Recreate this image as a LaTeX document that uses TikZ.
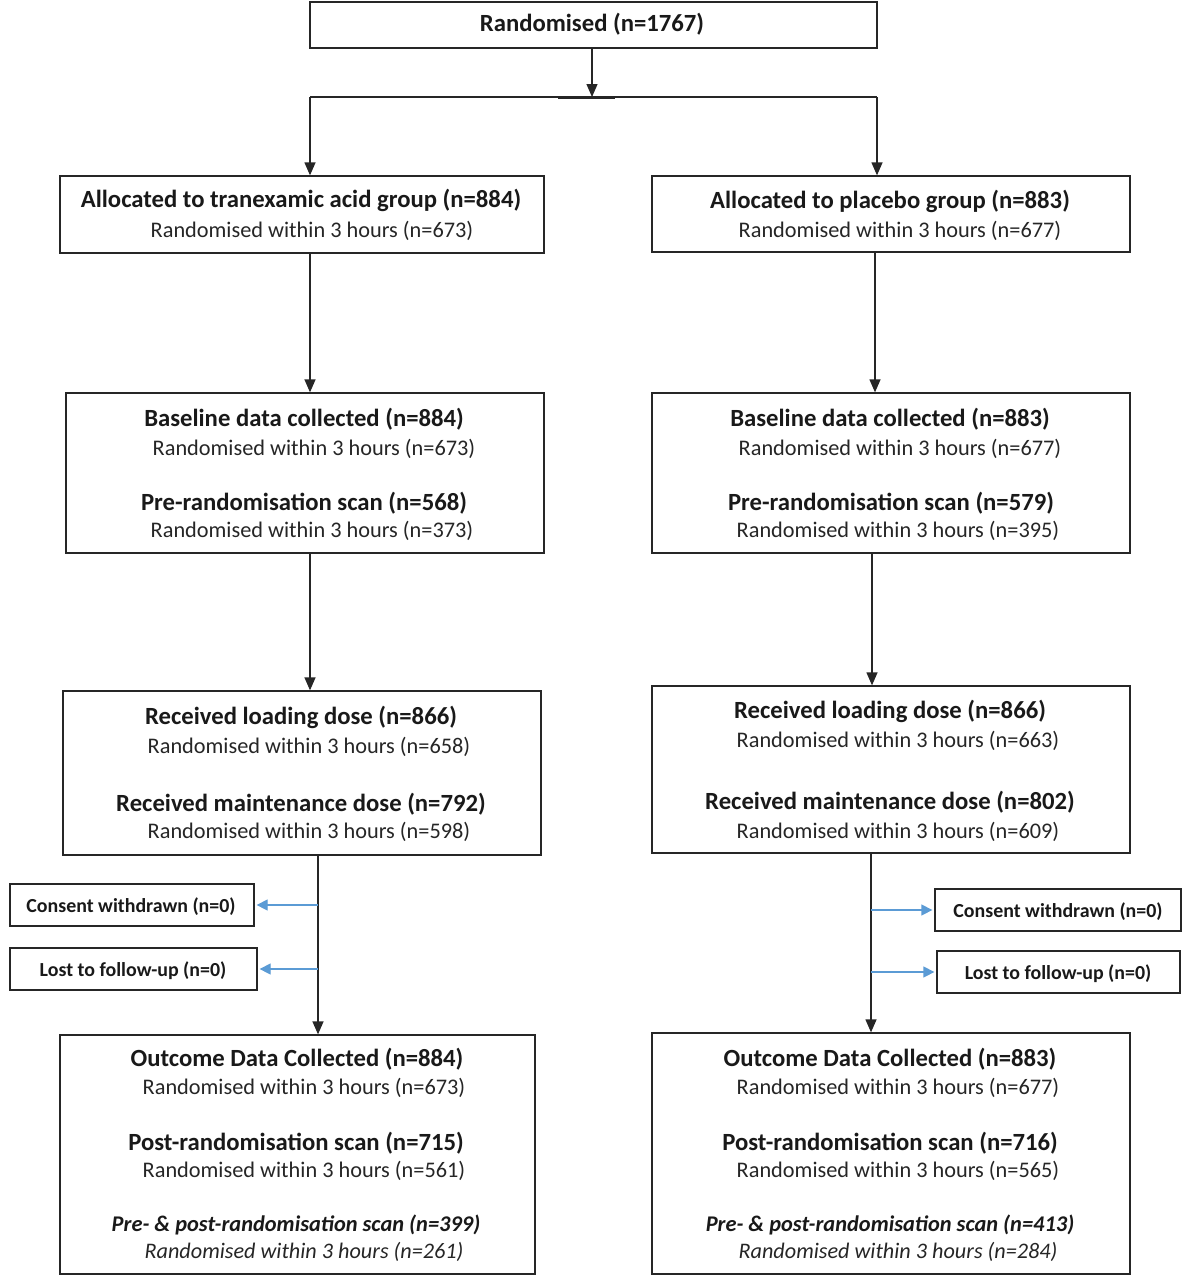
\documentclass[tikz,border=0pt]{standalone}
\usepackage{fontspec}
\setmainfont{Carlito}
\usetikzlibrary{arrows.meta}
\definecolor{ablue}{HTML}{5B9BD5}
\tikzset{
  box/.style={draw=black!85, line width=1.3pt, inner sep=0pt},
  txt/.style={inner sep=0pt, yshift=-1.5pt},
  hb/.style={txt, font=\fontsize{24.7}{28}\selectfont\bfseries, text=black!90},
  nt/.style={txt, font=\fontsize{22.3}{26}\selectfont, text=black!85},
  it/.style={txt, font=\fontsize{22.2}{26}\selectfont\itshape, text=black!85},
  itb/.style={txt, font=\fontsize{22.4}{26}\selectfont\bfseries\itshape, text=black!90},
  sb/.style={txt, font=\fontsize{19.9}{23}\selectfont\bfseries, text=black!90},
  arr/.style={line width=1.3pt, draw=black!85, -{Triangle[length=13pt,width=11pt]}},
  barr/.style={line width=1.3pt, draw=ablue, -{Triangle[length=11pt,width=11pt]}, shorten >=2pt},
  ln/.style={line width=1.3pt, draw=black!85},
}
\begin{document}
\begin{tikzpicture}[x=1pt,y=-1pt]
\useasboundingbox (0,0) rectangle (1193,1280);
\fill[white] (0,0) rectangle (1193,1280);
% boxes
\node[box, minimum width=567pt, minimum height=46pt] (top) at (593.5,25) {};
\node[box, minimum width=484pt, minimum height=77pt] (L1) at (302,214.5) {};
\node[box, minimum width=478pt, minimum height=76pt] (R1) at (891,214) {};
\node[box, minimum width=478pt, minimum height=160pt] (L2) at (305,473) {};
\node[box, minimum width=478pt, minimum height=160pt] (R2) at (891,473) {};
\node[box, minimum width=478pt, minimum height=164pt] (L3) at (302,773) {};
\node[box, minimum width=478pt, minimum height=167pt] (R3) at (891,769.5) {};
\node[box, minimum width=475pt, minimum height=239pt] (L4) at (297.5,1154.5) {};
\node[box, minimum width=478pt, minimum height=241pt] (R4) at (891,1153.5) {};
\node[box, minimum width=244pt, minimum height=42pt] (LC) at (132,905) {};
\node[box, minimum width=247pt, minimum height=42pt] (LL) at (133.5,969) {};
\node[box, minimum width=246pt, minimum height=42pt] (RC) at (1058,910) {};
\node[box, minimum width=243pt, minimum height=42pt] (RL) at (1058.5,972) {};
% texts
\node[hb] (tTop) at (592,23) {Randomised (n=1767)};
\node[hb] (tL1a) at (301,199) {Allocated to tranexamic acid group (n=884)};
\node[nt] (tL1b) at (312,229) {Randomised within 3 hours (n=673)};
\node[hb] (tR1a) at (890,200) {Allocated to placebo group (n=883)};
\node[nt] (tR1b) at (900,229) {Randomised within 3 hours (n=677)};
\node[hb] (tL2a) at (304,418) {Baseline data collected (n=884)};
\node[nt] (tL2b) at (314,447) {Randomised within 3 hours (n=673)};
\node[hb] (tL2c) at (304,502) {Pre-randomisation scan (n=568)};
\node[nt] (tL2d) at (312,529) {Randomised within 3 hours (n=373)};
\node[hb] (tR2a) at (890,418) {Baseline data collected (n=883)};
\node[nt] (tR2b) at (900,447) {Randomised within 3 hours (n=677)};
\node[hb] (tR2c) at (891,502) {Pre-randomisation scan (n=579)};
\node[nt] (tR2d) at (898,529) {Randomised within 3 hours (n=395)};
\node[hb] (tL3a) at (301,716) {Received loading dose (n=866)};
\node[nt] (tL3b) at (309,745) {Randomised within 3 hours (n=658)};
\node[hb] (tL3c) at (301,803) {Received maintenance dose (n=792)};
\node[nt] (tL3d) at (309,830) {Randomised within 3 hours (n=598)};
\node[hb] (tR3a) at (890,710) {Received loading dose (n=866)};
\node[nt] (tR3b) at (898,739) {Randomised within 3 hours (n=663)};
\node[hb] (tR3c) at (890,801) {Received maintenance dose (n=802)};
\node[nt] (tR3d) at (898,830) {Randomised within 3 hours (n=609)};
\node[hb] (tL4a) at (297,1058) {Outcome Data Collected (n=884)};
\node[nt] (tL4b) at (304,1086) {Randomised within 3 hours (n=673)};
\node[hb] (tL4c) at (296,1142) {Post-randomisation scan (n=715)};
\node[nt] (tL4d) at (304,1169) {Randomised within 3 hours (n=561)};
\node[itb] (tL4e) at (296,1223) {Pre- \& post-randomisation scan (n=399)};
\node[it] (tL4f) at (304,1250) {Randomised within 3 hours (n=261)};
\node[hb] (tR4a) at (890,1058) {Outcome Data Collected (n=883)};
\node[nt] (tR4b) at (898,1086) {Randomised within 3 hours (n=677)};
\node[hb] (tR4c) at (890,1142) {Post-randomisation scan (n=716)};
\node[nt] (tR4d) at (898,1169) {Randomised within 3 hours (n=565)};
\node[itb] (tR4e) at (890,1223) {Pre- \& post-randomisation scan (n=413)};
\node[it] (tR4f) at (898,1250) {Randomised within 3 hours (n=284)};
\node[sb] (tLC) at (131,905) {Consent withdrawn (n=0)};
\node[sb] (tLL) at (133,969) {Lost to follow-up (n=0)};
\node[sb] (tRC) at (1058,910) {Consent withdrawn (n=0)};
\node[sb] (tRL) at (1058,972) {Lost to follow-up (n=0)};
% coordinates
\coordinate (split) at (592,97);
\coordinate (jL) at (310,97);
\coordinate (jR) at (877,97);
\coordinate (xA) at (310,0);
\coordinate (xB) at (875,0);
\coordinate (xC) at (310,0);
\coordinate (xD) at (872,0);
\coordinate (xE) at (318,0);
\coordinate (xF) at (871,0);
% connectors
\draw[arr] (top.south -| split) -- (split);
\draw[ln] (jL) -- (jR);
\draw[line width=3pt, draw=black!85] ([xshift=-34pt]split) -- ([xshift=23pt]split);
\draw[arr] (jL) -- (jL |- L1.north);
\draw[arr] (jR) -- (jR |- R1.north);
\draw[arr] (L1.south -| xA) -- (L2.north -| xA);
\draw[arr] (R1.south -| xB) -- (R2.north -| xB);
\draw[arr] (L2.south -| xC) -- (L3.north -| xC);
\draw[arr] (R2.south -| xD) -- (R3.north -| xD);
\draw[arr] (L3.south -| xE) -- (L4.north -| xE);
\draw[arr] (R3.south -| xF) -- (R4.north -| xF);
\draw[barr] (LC.east -| xE) -- (LC.east);
\draw[barr] (LL.east -| xE) -- (LL.east);
\draw[barr] (RC.west -| xF) -- (RC.west);
\draw[barr] (RL.west -| xF) -- (RL.west);
\end{tikzpicture}
\end{document}
